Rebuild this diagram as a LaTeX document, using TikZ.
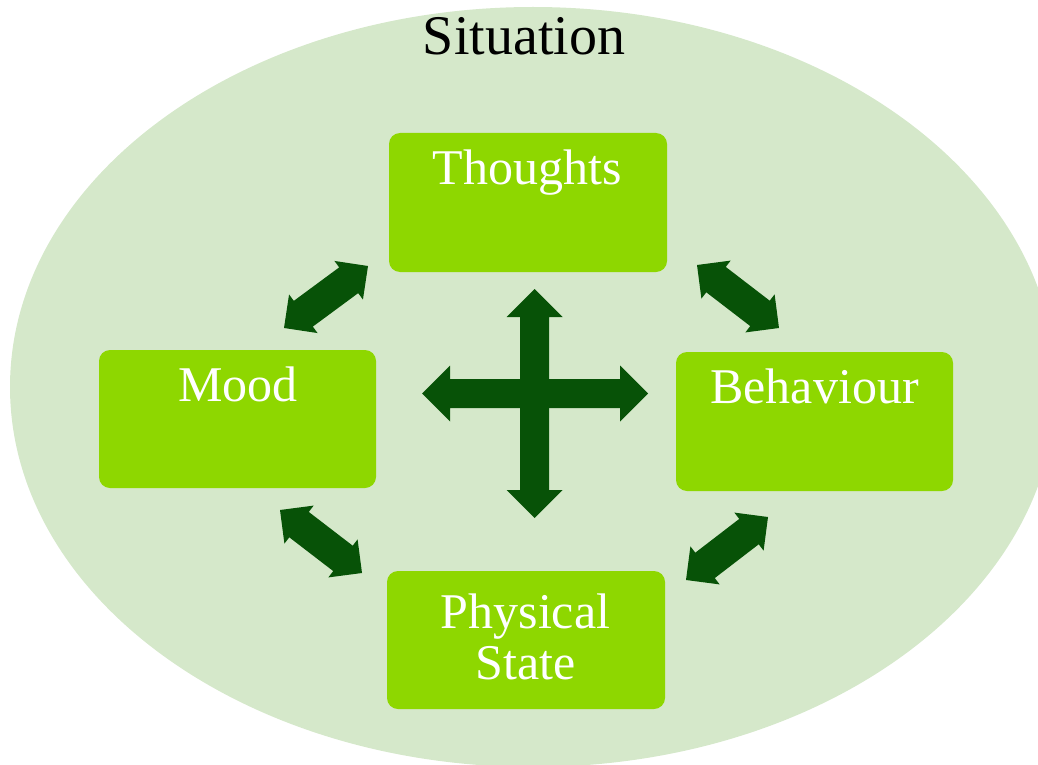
\documentclass[tikz,border=0pt]{standalone}
\usepackage{fontspec}
\setmainfont{Liberation Serif}
\usetikzlibrary{calc}
\definecolor{situcol}{HTML}{D5E8CA}
\definecolor{boxcol}{HTML}{8ED700}
\definecolor{arrcol}{HTML}{075207}
\tikzset{
  box/.style={fill=boxcol, rounded corners=11pt, inner sep=0pt, draw=none},
  lbl/.style={text=white, font=\fontsize{50}{51}\selectfont, inner sep=0pt, anchor=base, align=center},
  sitlbl/.style={text=black, font=\fontsize{56}{60}\selectfont, inner sep=0pt, anchor=base},
}
% #1 A, #2 B, #3 half shaft, #4 half head, #5 head length
\newcommand\dblarr[5]{%
  \coordinate (tmpa) at ($(#1)!#5!(#2)$);
  \coordinate (tmpb) at ($(#2)!#5!(#1)$);
  \fill[arrcol] (#1) -- ($(tmpa)!#4!90:(#2)$) -- ($(tmpa)!#3!90:(#2)$)
    -- ($(tmpb)!#3!-90:(#1)$) -- ($(tmpb)!#4!-90:(#1)$) -- (#2)
    -- ($(tmpb)!#4!90:(#1)$) -- ($(tmpb)!#3!90:(#1)$)
    -- ($(tmpa)!#3!-90:(#2)$) -- ($(tmpa)!#4!-90:(#2)$) -- cycle;}
\begin{document}
\begin{tikzpicture}[x=1pt, y=-1pt]
\useasboundingbox (0,0) rectangle (1038,765);
\clip (0,0) rectangle (1038,765);
% situation ellipse
\fill[situcol] (533,387) ellipse [x radius=523pt, y radius=380pt];
\node[sitlbl] (situation) at (524,55) {Situation};
% boxes
\node[box, minimum width=278pt, minimum height=139pt] (thoughts) at (528,202.5) {};
\node[box, minimum width=277pt, minimum height=138pt] (mood) at (237.5,419) {};
\node[box, minimum width=277pt, minimum height=139pt] (behaviour) at (814.5,421.5) {};
\node[box, minimum width=278pt, minimum height=138pt] (physical) at (526,640) {};
% labels
\node[lbl] (thoughtsT) at (527,184) {Thoughts};
\node[lbl] (moodT) at (238,401) {Mood};
\node[lbl] (behaviourT) at (814.5,403) {Behaviour};
\node[lbl] (physicalT) at (525.5,628) {Physical};
\node[lbl] (stateT) at (525.8,679) {State};
% diagonal arrow end points
\coordinate (tmA) at (284,328); \coordinate (tmB) at (368,266);
\coordinate (mpA) at (280,510); \coordinate (mpB) at (362,573);
\coordinate (tbA) at (697,265); \coordinate (tbB) at (779,328);
\coordinate (bpA) at (686,580); \coordinate (bpB) at (768,517);
\dblarr{tmA}{tmB}{16pt}{24pt}{24pt}
\dblarr{mpA}{mpB}{16pt}{24pt}{24pt}
\dblarr{tbA}{tbB}{16pt}{24pt}{24pt}
\dblarr{bpA}{bpB}{16pt}{24pt}{24pt}
% central cross
\coordinate (cu) at (534.5,289); \coordinate (cd) at (534.5,518);
\coordinate (cl) at (422,393.5); \coordinate (cr) at (648,393.5);
\dblarr{cu}{cd}{14.5pt}{28pt}{28pt}
\dblarr{cl}{cr}{14.5pt}{28pt}{28pt}
\end{tikzpicture}
\end{document}
